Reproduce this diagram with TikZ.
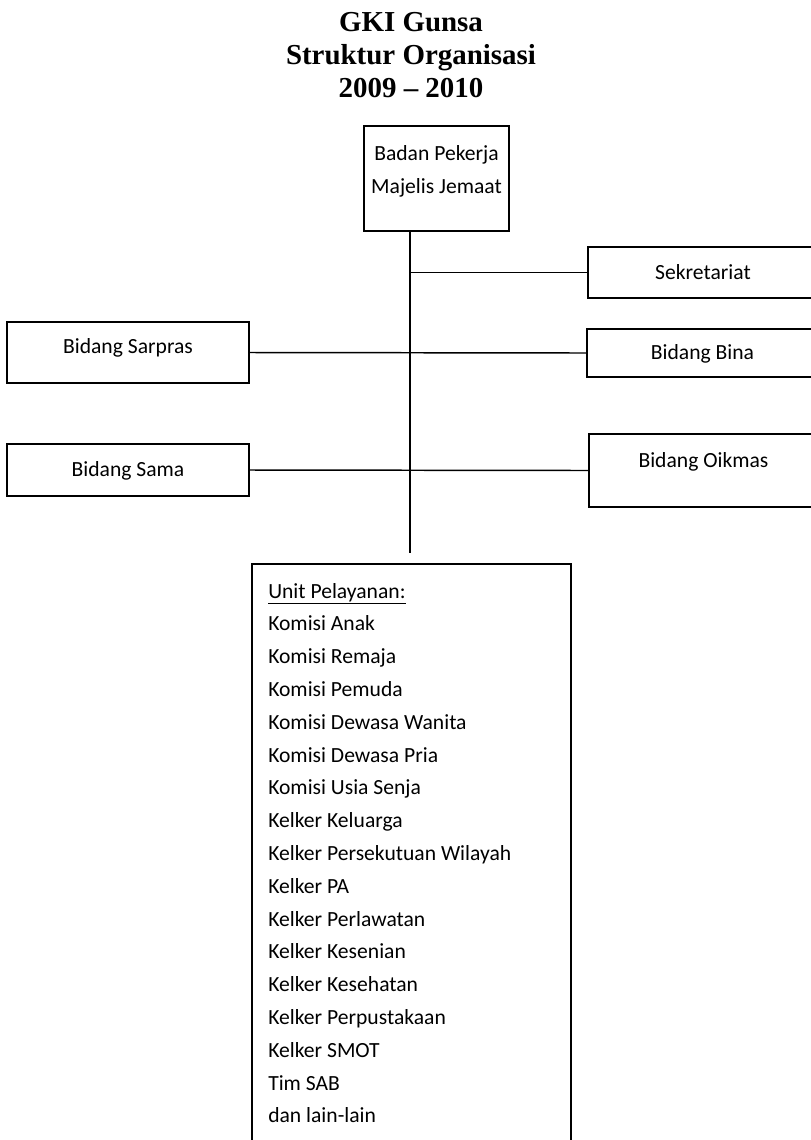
\documentclass[tikz,border=0pt]{standalone}
\usepackage{fontspec}
\setmainfont{Carlito}
\newfontfamily\titlefont[Ligatures=TeX]{Liberation Serif}
\usepackage{tikz}
\usetikzlibrary{positioning}
\usetikzlibrary{%
  calc,%
  arrows%
}
\tikzset{
  orgbox/.style={draw, line width=1.3pt, inner sep=0pt},
  orgtext/.style={font=\fontsize{16.2}{19}\selectfont, inner sep=0pt, anchor=base},
  titletext/.style={font=\titlefont\bfseries\fontsize{21.7}{25}\selectfont, inner sep=0pt, anchor=base},
  conn/.style={line width=1.1pt}
}

\begin{document}
\begin{tikzpicture}[x=0.75pt, y=-0.75pt]
\useasboundingbox (0,0) rectangle (811,1140);
\node[titletext] (title1) at (411,31) {GKI Gunsa};
\node[titletext] (title2) at (411,64) {Struktur Organisasi};
\node[titletext] (title3) at (411,97) {2009 -- 2010};

\node[orgbox, minimum width=108.75pt, minimum height=78.75pt] (bpmj) at (436.5,178.5) {};
\node[orgbox, minimum width=172.5pt, minimum height=38.25pt] (sek) at (703,272.5) {};
\node[orgbox, minimum width=173.25pt, minimum height=36pt] (bina) at (702.5,353) {};
\node[orgbox, minimum width=181.5pt, minimum height=45.75pt] (sarpras) at (128,352.5) {};
\node[orgbox, minimum width=181.5pt, minimum height=39pt] (sama) at (128,470) {};
\node[orgbox, minimum width=171.75pt, minimum height=54.75pt] (oikmas) at (703.5,470.5) {};
\node[orgbox, minimum width=239.25pt, minimum height=447pt] (unit) at (411.5,862) {};

\node[orgtext] (bpmj1) at (436.5,160) {Badan Pekerja};
\node[orgtext] (bpmj2) at (436.5,193) {Majelis Jemaat};
\node[orgtext] (sektext) at (703,279) {Sekretariat};
\node[orgtext] (binatext) at (702.5,359) {Bidang Bina};
\node[orgtext] (sarprastext) at (128,353) {Bidang Sarpras};
\node[orgtext] (samatext) at (128,476) {Bidang Sama};
\node[orgtext] (oikmastext) at (703.5,467) {Bidang Oikmas};

\foreach \item [count=\i from 0] in {\underline{Unit Pelayanan:}, Komisi Anak, Komisi Remaja, Komisi Pemuda, Komisi Dewasa Wanita, Komisi Dewasa Pria, Komisi Usia Senja, Kelker Keluarga, Kelker Persekutuan Wilayah, Kelker PA, Kelker Perlawatan, Kelker Kesenian, Kelker Kesehatan, Kelker Perpustakaan, Kelker SMOT, Tim SAB, dan lain-lain}
  \node[orgtext, anchor=base west] (unit\i) at (268,598+\i*32.8) {\item};

\coordinate (spinebot) at (410,553);
\draw[conn] (bpmj.south -| spinebot) -- (spinebot);
\draw[conn] (sek.west -| spinebot) -- (sek.west);
\draw[conn] (sarpras.east) -- (bina.west);
\draw[conn] (sama.east) -- (oikmas.west);
\end{tikzpicture}
\end{document}
